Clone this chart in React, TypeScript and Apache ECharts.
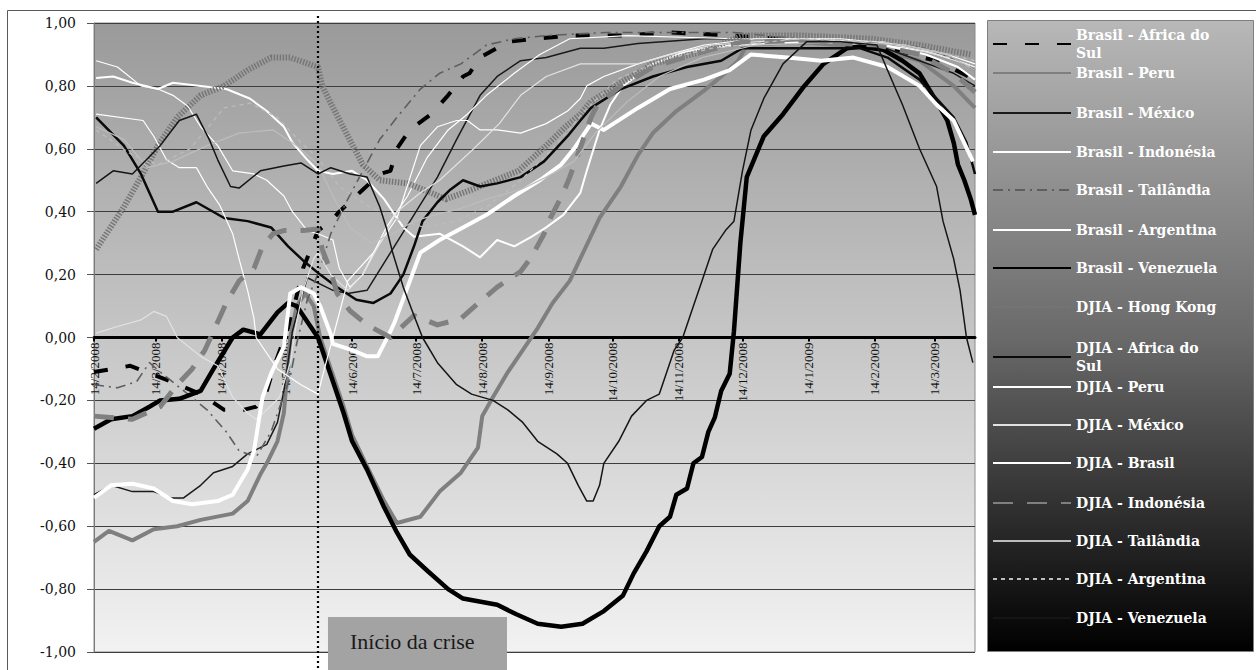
import React, { useEffect, useRef } from 'react';
import * as echarts from 'echarts';

// ---------- categories: one per calendar day from 14/2/2008 ----------
const DAY_COUNT = 414;
const categories: string[] = [];
for (let i = 0; i < DAY_COUNT; i++) {
  const dt = new Date(2008, 1, 14 + i);
  categories.push(`${dt.getDate()}/${dt.getMonth() + 1}/${dt.getFullYear()}`);
}
const CRISIS_DAY = '29/5/2008';
const CRISIS_LABEL = 'Início da crise';

const yTicks = { min: -1, max: 1, step: 0.2 };

// ---------- series values: [day index, correlation] ----------
const brasilAfricaDoSul = [[0,-0.11],[17,-0.09],[36,-0.14],[50,-0.18],[61,-0.23],[70,-0.23],[76,-0.22],[81,-0.17],[84,-0.10],[92,0.05],[96,0.16],[98,0.22],[101,0.27],[105,0.34],[111,0.37],[115,0.40],[126,0.47],[134,0.52],[139,0.53],[142,0.60],[148,0.66],[158,0.71],[166,0.77],[173,0.83],[176,0.84],[181,0.89],[194,0.94],[206,0.95],[225,0.96],[247,0.96],[270,0.97],[300,0.96],[340,0.94],[370,0.92],[395,0.88],[413,0.82]];
const brasilPeru = [[0,-0.65],[7,-0.615],[18,-0.645],[28,-0.61],[39,-0.60],[50,-0.58],[65,-0.56],[72,-0.52],[78,-0.435],[81,-0.40],[86,-0.33],[89,-0.24],[91,-0.08],[92,0.0],[95,0.10],[99,0.14],[103,0.10],[106,0.0],[112,-0.12],[117,-0.22],[121,-0.31],[128,-0.41],[136,-0.52],[142,-0.59],[153,-0.57],[162,-0.49],[172,-0.43],[180,-0.35],[182,-0.25],[187,-0.19],[194,-0.11],[201,-0.04],[208,0.03],[215,0.11],[223,0.18],[237,0.38],[247,0.48],[255,0.58],[262,0.65],[273,0.72],[286,0.785],[294,0.83],[302,0.88],[306,0.93],[330,0.94],[367,0.92],[387,0.88],[403,0.80],[413,0.73]];
const brasilMexico = [[0,-0.50],[8,-0.47],[18,-0.49],[28,-0.49],[36,-0.51],[42,-0.51],[50,-0.47],[56,-0.43],[65,-0.41],[72,-0.37],[81,-0.34],[86,-0.27],[89,-0.17],[92,-0.03],[93,0.02],[97,0.12],[100,0.19],[112,0.15],[119,0.14],[128,0.15],[139,0.27],[150,0.39],[161,0.51],[170,0.63],[181,0.77],[189,0.83],[200,0.88],[212,0.89],[228,0.92],[239,0.92],[255,0.935],[286,0.95],[330,0.95],[367,0.93],[387,0.88],[403,0.84],[413,0.80]];
const brasilIndonesia = [[1,0.88],[11,0.86],[22,0.80],[30,0.79],[37,0.77],[44,0.735],[50,0.67],[58,0.61],[65,0.53],[75,0.52],[81,0.50],[89,0.45],[93,0.40],[100,0.34],[105,0.33],[112,0.31],[115,0.22],[120,0.16],[126,0.20],[137,0.35],[147,0.45],[156,0.57],[166,0.66],[175,0.71],[184,0.77],[197,0.84],[209,0.90],[223,0.95],[250,0.96],[300,0.95],[340,0.95],[370,0.93],[390,0.91],[405,0.88],[413,0.86]];
const brasilTailandia = [[0,-0.15],[11,-0.16],[20,-0.14],[26,-0.08],[32,-0.115],[44,-0.18],[53,-0.23],[62,-0.30],[68,-0.36],[76,-0.38],[83,-0.30],[92,-0.125],[95,-0.02],[100,0.12],[106,0.22],[111,0.33],[119,0.44],[126,0.53],[134,0.63],[142,0.70],[153,0.79],[162,0.84],[172,0.87],[184,0.93],[197,0.95],[212,0.96],[240,0.97],[300,0.97],[330,0.95],[367,0.94],[390,0.92],[405,0.88],[413,0.85]];
const brasilArgentina = [[1,0.825],[9,0.83],[18,0.81],[30,0.79],[37,0.81],[50,0.80],[62,0.79],[73,0.76],[81,0.72],[89,0.67],[93,0.62],[100,0.565],[105,0.53],[112,0.52],[121,0.53],[128,0.50],[136,0.44],[140,0.40],[145,0.35],[150,0.32],[162,0.33],[173,0.29],[181,0.255],[189,0.31],[197,0.29],[205,0.32],[212,0.35],[220,0.39],[228,0.46],[231,0.53],[237,0.66],[242,0.74],[248,0.80],[262,0.87],[278,0.91],[300,0.93],[340,0.94],[370,0.93],[390,0.90],[405,0.86],[413,0.82]];
const brasilVenezuela = [[0,-0.29],[8,-0.26],[18,-0.25],[26,-0.22],[31,-0.20],[40,-0.195],[50,-0.17],[56,-0.10],[65,0.0],[70,0.025],[78,0.01],[86,0.08],[91,0.11],[95,0.10],[100,0.05],[105,0.0],[107,-0.04],[112,-0.14],[117,-0.24],[121,-0.33],[128,-0.42],[136,-0.54],[142,-0.62],[148,-0.69],[156,-0.74],[166,-0.80],[173,-0.83],[189,-0.85],[198,-0.88],[208,-0.91],[219,-0.92],[229,-0.91],[239,-0.87],[248,-0.82],[253,-0.75],[259,-0.68],[265,-0.60],[270,-0.57],[273,-0.50],[278,-0.48],[281,-0.40],[285,-0.38],[288,-0.30],[291,-0.255],[294,-0.17],[298,-0.115],[300,0.02],[303,0.30],[306,0.51],[314,0.64],[323,0.71],[333,0.80],[342,0.87],[353,0.92],[359,0.925],[370,0.915],[379,0.88],[387,0.84],[395,0.75],[400,0.69],[403,0.62],[405,0.55],[408,0.50],[411,0.44],[413,0.39]];
const djiaHongKong = [[1,0.28],[14,0.415],[22,0.51],[30,0.61],[39,0.70],[50,0.77],[61,0.80],[72,0.85],[83,0.89],[92,0.89],[105,0.86],[107,0.80],[111,0.745],[119,0.64],[126,0.55],[134,0.50],[147,0.49],[158,0.46],[165,0.44],[177,0.47],[188,0.50],[199,0.53],[212,0.61],[221,0.67],[228,0.71],[233,0.75],[247,0.81],[262,0.87],[286,0.91],[304,0.96],[332,0.96],[364,0.95],[387,0.93],[411,0.90]];
const djiaAfricaDoSul = [[1,0.70],[14,0.61],[22,0.52],[30,0.40],[37,0.40],[48,0.43],[61,0.38],[72,0.37],[83,0.35],[91,0.29],[98,0.245],[106,0.20],[114,0.16],[123,0.12],[131,0.11],[139,0.14],[145,0.20],[150,0.29],[154,0.37],[161,0.43],[167,0.47],[173,0.50],[181,0.48],[189,0.49],[200,0.51],[211,0.56],[222,0.64],[228,0.69],[233,0.73],[247,0.79],[262,0.83],[278,0.86],[294,0.88],[304,0.92],[330,0.92],[359,0.92],[372,0.89],[387,0.82],[395,0.76],[403,0.70],[409,0.62],[413,0.52]];
const djiaPeru = [[1,0.71],[23,0.69],[28,0.64],[34,0.565],[40,0.54],[48,0.54],[53,0.48],[59,0.42],[65,0.33],[68,0.25],[72,0.15],[75,0.06],[76,0.0],[81,-0.05],[86,-0.10],[97,-0.15],[105,-0.18],[108,-0.10],[112,0.0],[119,0.18],[131,0.27],[142,0.38],[153,0.61],[161,0.67],[170,0.69],[175,0.69],[181,0.66],[189,0.66],[200,0.65],[212,0.68],[222,0.72],[228,0.76],[231,0.80],[239,0.83],[255,0.87],[270,0.90],[286,0.93],[310,0.95],[350,0.95],[380,0.93],[400,0.90],[413,0.87]];
const djiaMexico = [[1,0.014],[11,0.035],[22,0.056],[28,0.083],[34,0.067],[39,0.0],[50,-0.06],[58,-0.09],[65,-0.19],[72,-0.24],[76,-0.26],[81,-0.23],[87,-0.19],[92,-0.08],[95,0.05],[98,0.15],[103,0.25],[105,0.27],[111,0.20],[119,0.15],[126,0.20],[134,0.30],[142,0.40],[153,0.46],[162,0.50],[170,0.55],[178,0.60],[190,0.68],[200,0.77],[212,0.83],[228,0.87],[255,0.87],[270,0.90],[290,0.93],[330,0.95],[370,0.94],[395,0.90],[413,0.86]];
const djiaBrasil = [[0,-0.51],[8,-0.47],[18,-0.465],[28,-0.48],[37,-0.52],[46,-0.53],[58,-0.52],[65,-0.50],[72,-0.42],[75,-0.36],[79,-0.19],[83,-0.115],[89,-0.03],[92,0.14],[97,0.16],[103,0.14],[106,0.10],[111,0.01],[112,-0.02],[121,-0.04],[128,-0.06],[133,-0.06],[139,0.02],[141,0.05],[147,0.16],[153,0.27],[162,0.31],[173,0.35],[184,0.39],[197,0.45],[209,0.50],[219,0.55],[225,0.60],[233,0.68],[239,0.66],[255,0.73],[270,0.79],[286,0.82],[298,0.85],[308,0.90],[325,0.89],[341,0.88],[356,0.89],[372,0.86],[387,0.80],[395,0.74],[403,0.69],[412,0.56]];
const djiaIndonesia = [[0,-0.25],[18,-0.26],[31,-0.22],[39,-0.15],[46,-0.10],[52,-0.04],[56,0.02],[62,0.11],[68,0.18],[75,0.22],[79,0.29],[84,0.33],[89,0.34],[98,0.34],[105,0.345],[107,0.28],[111,0.21],[114,0.14],[120,0.085],[128,0.04],[139,0.0],[150,0.07],[161,0.04],[172,0.06],[182,0.12],[189,0.16],[200,0.21],[205,0.255],[211,0.33],[214,0.38],[220,0.46],[223,0.51],[227,0.585],[233,0.70],[236,0.74],[247,0.80],[262,0.86],[286,0.91],[304,0.94],[330,0.94],[367,0.93],[387,0.90],[403,0.84],[413,0.78]];
const djiaTailandia = [[1,0.67],[14,0.63],[25,0.54],[37,0.56],[53,0.61],[68,0.65],[84,0.66],[95,0.61],[105,0.55],[112,0.45],[120,0.35],[130,0.30],[140,0.33],[150,0.37],[160,0.39],[172,0.41],[184,0.44],[200,0.47],[212,0.51],[225,0.56],[235,0.65],[250,0.75],[265,0.83],[285,0.89],[310,0.93],[350,0.94],[380,0.93],[400,0.90],[413,0.85]];
const djiaArgentina = [[1,0.66],[18,0.58],[30,0.55],[45,0.60],[61,0.73],[73,0.745],[86,0.70],[97,0.62],[105,0.57],[115,0.48],[128,0.42],[140,0.38],[155,0.35],[170,0.37],[185,0.42],[200,0.50],[215,0.60],[230,0.72],[245,0.82],[265,0.88],[290,0.92],[330,0.95],[370,0.94],[395,0.91],[413,0.88]];
const djiaVenezuela = [[1,0.49],[9,0.53],[18,0.52],[31,0.61],[40,0.69],[48,0.71],[54,0.63],[58,0.565],[64,0.48],[68,0.475],[78,0.53],[89,0.545],[97,0.555],[105,0.52],[111,0.54],[120,0.52],[128,0.51],[134,0.415],[137,0.35],[140,0.27],[145,0.16],[150,0.07],[154,0.0],[161,-0.08],[170,-0.15],[177,-0.18],[187,-0.20],[194,-0.23],[201,-0.27],[208,-0.33],[217,-0.37],[222,-0.40],[227,-0.47],[231,-0.52],[234,-0.52],[237,-0.47],[239,-0.40],[246,-0.33],[252,-0.25],[259,-0.20],[265,-0.18],[267,-0.14],[272,-0.04],[276,0.0],[280,0.08],[285,0.18],[290,0.28],[296,0.34],[300,0.37],[304,0.53],[308,0.66],[314,0.76],[323,0.87],[334,0.94],[350,0.94],[367,0.93],[372,0.85],[379,0.74],[387,0.60],[395,0.48],[398,0.37],[403,0.25],[406,0.15],[409,0.0],[412,-0.08]];

const seriesNames = [
  'Brasil - Africa do Sul', 'Brasil - Peru', 'Brasil - México', 'Brasil - Indonésia',
  'Brasil - Tailândia', 'Brasil - Argentina', 'Brasil - Venezuela', 'DJIA - Hong Kong',
  'DJIA - Africa do Sul', 'DJIA - Peru', 'DJIA - México', 'DJIA - Brasil',
  'DJIA - Indonésia', 'DJIA - Tailândia', 'DJIA - Argentina', 'DJIA - Venezuela',
];
const seriesValues = [
  brasilAfricaDoSul, brasilPeru, brasilMexico, brasilIndonesia,
  brasilTailandia, brasilArgentina, brasilVenezuela, djiaHongKong,
  djiaAfricaDoSul, djiaPeru, djiaMexico, djiaBrasil,
  djiaIndonesia, djiaTailandia, djiaArgentina, djiaVenezuela,
];

// styles (kept apart from data)
const seriesStyles: any[] = [
  { color: '#000000', width: 4, type: [14, 18] },
  { color: '#7f7f7f', width: 4, type: 'solid' },
  { color: '#1a1a1a', width: 1.5, type: 'solid' },
  { color: '#ffffff', width: 1.2, type: 'solid' },
  { color: '#5e5e5e', width: 1.6, type: [10, 5, 2, 5] },
  { color: '#ffffff', width: 2, type: 'solid' },
  { color: '#000000', width: 4.5, type: 'solid' },
  { color: '#767676', width: 6, type: [1.5, 1.5] },
  { color: '#0a0a0a', width: 2.5, type: 'solid' },
  { color: '#ffffff', width: 1.2, type: 'solid' },
  { color: '#e2e2e2', width: 1.2, type: 'solid' },
  { color: '#ffffff', width: 4, type: 'solid' },
  { color: '#808080', width: 5, type: [20, 14] },
  { color: '#bdbdbd', width: 1.2, type: 'solid' },
  { color: '#bdbdbd', width: 1.2, type: [4, 4] },
  { color: '#151515', width: 1.5, type: 'solid' },
];
const legendRows = [35, 73, 113, 152, 190, 230, 268, 307, 348, 387, 425, 463, 503, 541, 579, 618];

const GRID = { left: 94, right: 281, top: 23, bottom: 18 };
const CHART_H = 670;

const fmtY = (v: number) => (Math.abs(v) < 1e-9 ? 0 : v).toFixed(2).replace('.', ',');
const isTickDay = (_i: number, v: string) => v.startsWith('14/');

export default function App() {
  const ref = useRef<HTMLDivElement>(null);
  useEffect(() => {
    if (!ref.current) return;
    const chart = echarts.init(ref.current, undefined, { renderer: 'svg' });

    const plotH = CHART_H - GRID.top - GRID.bottom;
    // distance from the bottom of the plot to the value 0
    const zeroOffset = -plotH * (0 - yTicks.min) / (yTicks.max - yTicks.min);

    const series = seriesNames.map((name, i) => ({
      name,
      type: 'line',
      data: seriesValues[i],
      symbol: 'none',
      showSymbol: false,
      z: 2 + i * 0.01,
      lineStyle: { color: seriesStyles[i].color, width: seriesStyles[i].width, type: seriesStyles[i].type, cap: 'butt', join: 'round' },
      itemStyle: { color: seriesStyles[i].color },
      emphasis: { disabled: true },
    }));

    const legends = seriesNames.map((name, i) => ({
      data: [name],
      left: 992,
      top: legendRows[i] - 9,
      orient: 'vertical',
      itemWidth: 78,
      itemHeight: 14,
      padding: 0,
      selectedMode: false,
      itemStyle: { opacity: 0 },
      formatter: (n: string) => n.replace(' do Sul', ' do\nSul'),
      textStyle: { color: '#ffffff', fontFamily: 'DejaVu Serif', fontWeight: 'bold', fontSize: 14, lineHeight: 18 },
    }));

    chart.setOption({
      animation: false,
      backgroundColor: '#ffffff',
      grid: {
        ...GRID, show: true,
        backgroundColor: new echarts.graphic.LinearGradient(0, 0, 0, 1, [
          { offset: 0, color: '#9a9a9a' },
          { offset: 1, color: '#f2f2f2' },
        ]),
        borderColor: '#8a8a8a', borderWidth: 1,
      },
      xAxis: {
        type: 'category', data: categories, boundaryGap: false,
        offset: zeroOffset,
        axisLine: { onZero: false, lineStyle: { color: '#000', width: 3 } },
        axisTick: { interval: isTickDay, length: 4, lineStyle: { color: '#000', width: 2 } },
        axisLabel: { interval: isTickDay, rotate: 90, fontFamily: 'Liberation Serif', fontSize: 13, color: '#111', margin: 5 },
        splitLine: { show: false },
      },
      yAxis: {
        type: 'value', min: yTicks.min, max: yTicks.max, interval: yTicks.step,
        axisLine: { show: true, lineStyle: { color: '#7a7a7a' } },
        axisTick: { show: true, length: 7, lineStyle: { color: '#555' } },
        axisLabel: { formatter: fmtY, fontFamily: 'DejaVu Serif', fontSize: 14, color: '#111', margin: 18 },
        splitLine: { lineStyle: { color: '#3d3d3d', width: 1 } },
      },
      legend: legends,
      series,
    });

    const px = chart.convertToPixel({ xAxisIndex: 0 }, CRISIS_DAY) as number;
    chart.setOption({
      graphic: [
        { type: 'rect', z: -10, silent: true, shape: { x: 7.5, y: 10.5, width: 1300, height: 700 }, style: { fill: 'none', stroke: '#5a5a5a', lineWidth: 1 } },
        {
          type: 'rect', z: 1, silent: true, shape: { x: 987.5, y: 20.5, width: 266, height: 631 },
          style: {
            fill: new echarts.graphic.LinearGradient(0, 0, 0, 1, [
              { offset: 0, color: '#b8b8b8' },
              { offset: 0.5, color: '#6a6a6a' },
              { offset: 1, color: '#000000' },
            ]),
            stroke: '#7f7f7f', lineWidth: 1,
          },
        },
        { type: 'line', z: 50, silent: true, shape: { x1: px, y1: 16, x2: px, y2: 672 }, style: { stroke: '#000', lineWidth: 2.2, lineDash: [2, 3] } },
        { type: 'rect', z: 51, silent: true, shape: { x: px + 10, y: 617, width: 179, height: 60 }, style: { fill: '#a3a3a3' } },
        { type: 'text', z: 52, silent: true, x: px + 32, y: 641, style: { text: CRISIS_LABEL, fill: '#1a1a1a', font: '22px "Liberation Serif"', verticalAlign: 'middle' } },
      ],
    });

    return () => chart.dispose();
  }, []);
  return <div ref={ref} style={{ position: 'fixed', left: 0, top: 0, width: 1256, height: 670 }} />;
}
